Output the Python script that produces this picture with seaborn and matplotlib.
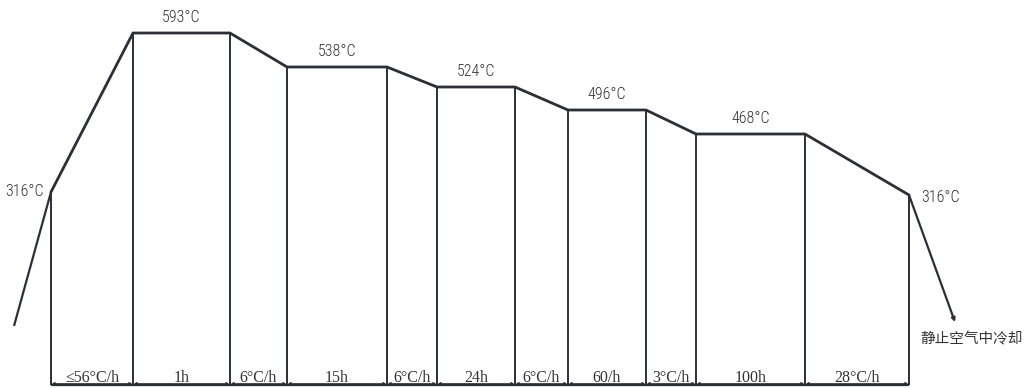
import matplotlib
matplotlib.use('Agg')
import matplotlib.pyplot as plt
import seaborn as sns
import pandas as pd
import numpy as np

# ---- schematic data (drawing units) ----
stage_labels = ['≤56°C/h', '1h', '6°C/h', '15h', '6°C/h', '24h', '6°C/h',
                '60/h', '3°C/h', '100h', '28°C/h']
stage_widths = [82, 97, 57, 100, 50, 78, 53, 78, 50, 109, 104]
profile_start = 51
baseline_level = 3
vertex_levels = [196, 355, 355, 321, 321, 301, 301, 278, 278, 254, 254, 193]
hold_temps = ['593°C', '538°C', '524°C', '496°C', '468°C']
start_temp = '316°C'
end_temp = '316°C'
heat_in_offset = [-37, -134]      # lead-in heating line (dx, dy) from first vertex
cool_out_offset = [46, -127]      # air-cooling line (dx, dy) from last vertex
cool_label = '静止空气中冷却'

sns.set_theme(style='white')
plt.rcParams['font.family'] = ['Roboto Condensed', 'Liberation Sans Narrow',
                               'Liberation Sans', 'DejaVu Sans']

line_color = '#2b2f36'
text_color = '#333333'

vx = np.concatenate([[profile_start], profile_start + np.cumsum(stage_widths)])
df = pd.DataFrame({'x': vx, 'y': vertex_levels})

fig = plt.figure(figsize=(10.24, 3.88), dpi=100)
ax = fig.add_axes([0, 0, 1, 1])
ax.set_xlim(0, 1024)
ax.set_ylim(0, 388)
ax.axis('off')

# main profile
sns.lineplot(data=df, x='x', y='y', sort=False, estimator=None, ax=ax,
             color=line_color, lw=2.0)
# lead-in heating line
ax.plot([vx[0] + heat_in_offset[0], vx[0]],
        [vertex_levels[0] + heat_in_offset[1], vertex_levels[0]],
        color=line_color, lw=1.6, solid_capstyle='butt')
# air-cooling line with arrow
ax.annotate('', xy=(vx[-1] + cool_out_offset[0], vertex_levels[-1] + cool_out_offset[1]),
            xytext=(vx[-1], vertex_levels[-1]),
            arrowprops=dict(arrowstyle='-|>', color=line_color, lw=1.6,
                            mutation_scale=5, shrinkA=0, shrinkB=0))

# vertical lines and baseline
ax.vlines(vx, baseline_level, vertex_levels, color=line_color, lw=1.4)
ax.hlines(baseline_level, vx[0], vx[-1], color=line_color, lw=1.6)

# dimension arrows and stage labels
label_fonts = ['Liberation Serif', 'DejaVu Serif']
for i, lab in enumerate(stage_labels):
    x0, x1 = vx[i], vx[i + 1]
    ax.annotate('', xy=(x0 + 1, baseline_level + 1.5), xytext=(x1 - 1, baseline_level + 1.5),
                arrowprops=dict(arrowstyle='<|-|>', color=line_color, lw=0.6,
                                mutation_scale=4, shrinkA=0, shrinkB=0))
    ax.text((x0 + x1) / 2, baseline_level + 3, lab, ha='center', va='baseline',
            fontsize=11.5, color=text_color, family=label_fonts)

# temperature labels on holds
tkw = dict(fontsize=11.5, color=text_color, fontweight='light')
hold_idx = [1, 3, 5, 7, 9]
for t, i in zip(hold_temps, hold_idx):
    ax.text((vx[i] + vx[i + 1]) / 2, vertex_levels[i] + 8, t, ha='center', va='bottom', **tkw)
ax.text(vx[0] - 7, vertex_levels[0] + 1, start_temp, ha='right', va='center', **tkw)
ax.text(vx[-1] + 12, vertex_levels[-1] - 2, end_temp, ha='left', va='center', **tkw)

ax.text(vx[-1] + 11, vertex_levels[-1] + cool_out_offset[1] - 17, cool_label,
        ha='left', va='center', fontsize=10.5, color=text_color, fontweight='light',
        family=['Noto Sans CJK SC', 'DejaVu Sans'])

fig.savefig('out.png', dpi=100, facecolor='white')
